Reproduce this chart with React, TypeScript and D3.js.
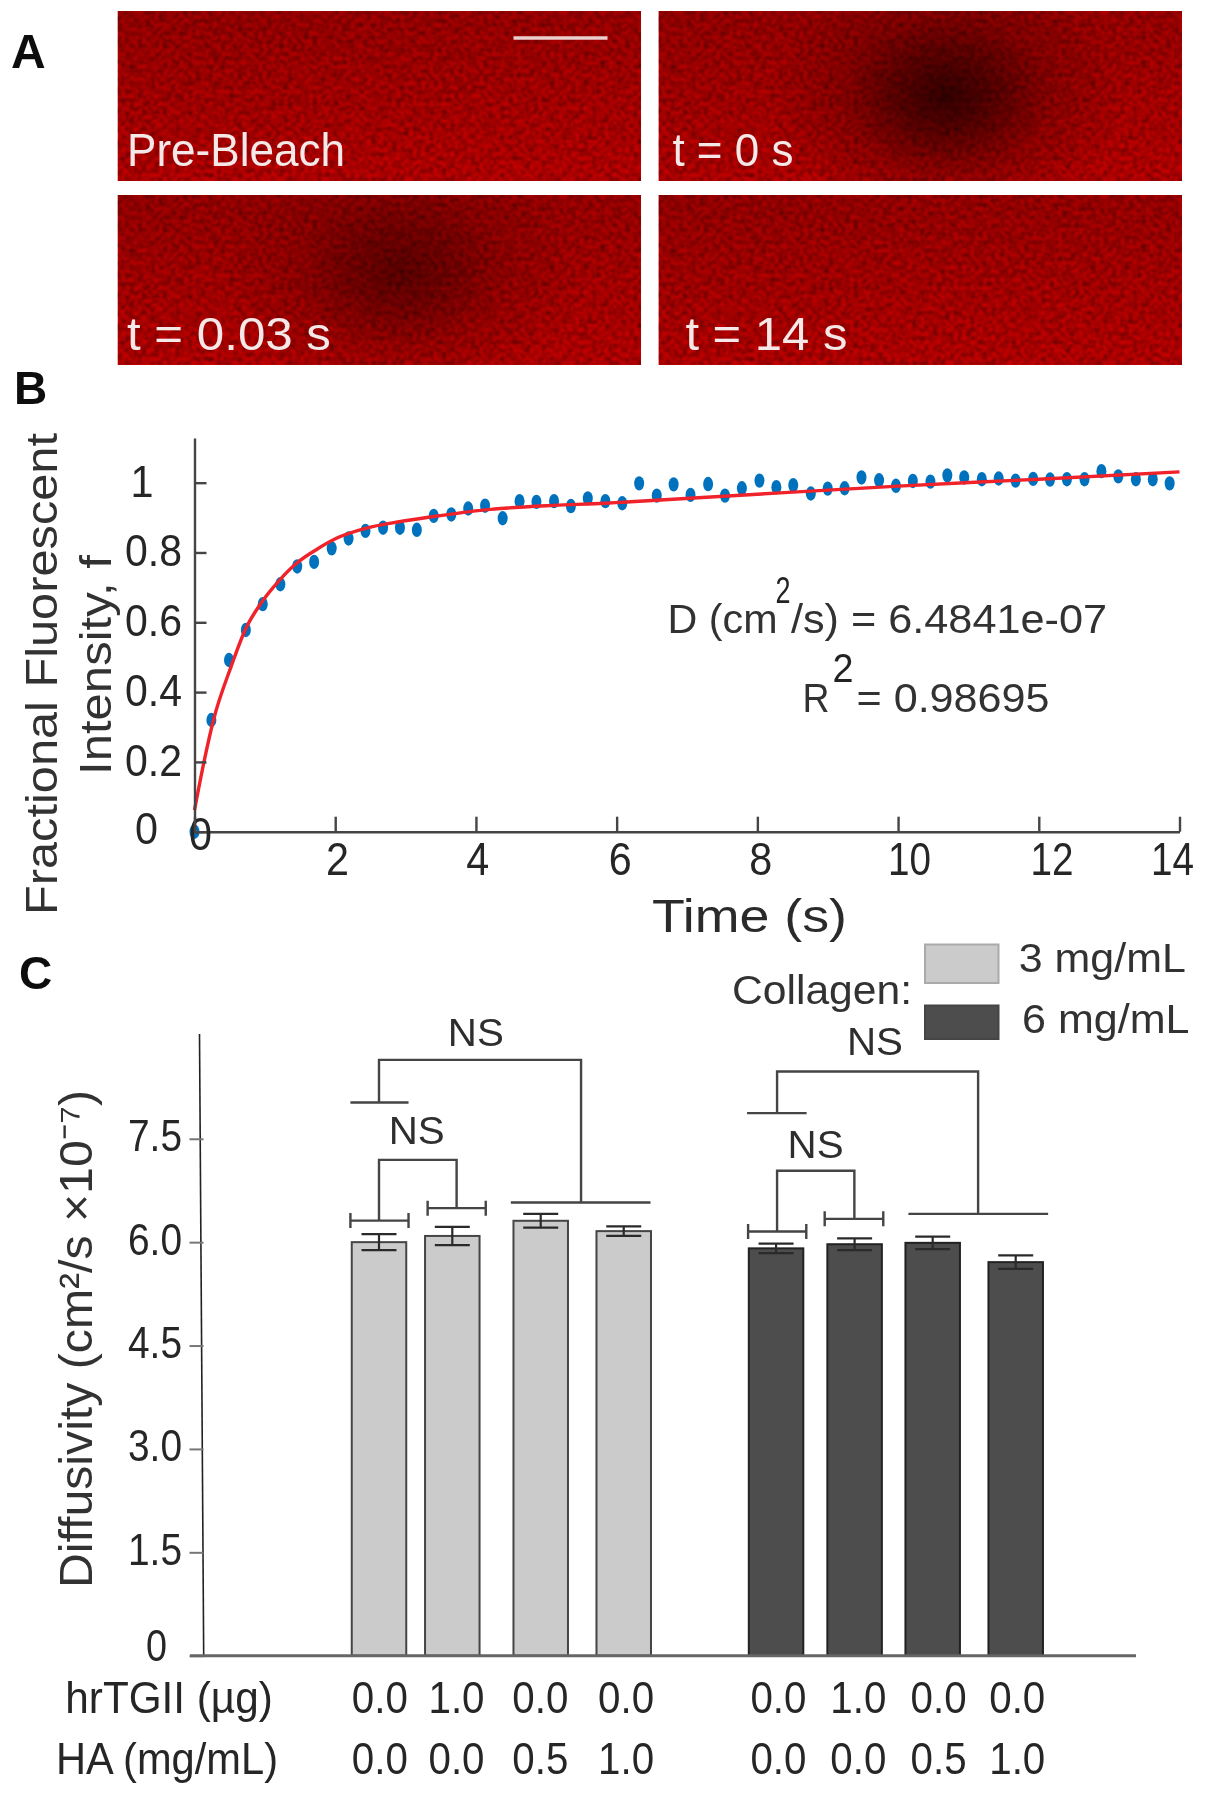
// App.tsx
import { useEffect, useRef } from 'react';
import * as d3 from 'd3';

const FONT = '"Liberation Sans", Arial, sans-serif';
const INK = '#262626';

// panel A
const frameLabels = ['Pre-Bleach', 't = 0 s', 't = 0.03 s', 't = 14 s'];

// panel B, measured recovery
const recoveryTime = [
  0, 0.24, 0.49, 0.73, 0.97, 1.22, 1.46, 1.7, 1.95, 2.19, 2.43, 2.68, 2.92, 3.16, 3.4, 3.65, 3.89, 4.13, 4.38,
  4.62, 4.86, 5.11, 5.35, 5.59, 5.84, 6.08, 6.32, 6.57, 6.81, 7.05, 7.3, 7.54, 7.78, 8.03, 8.27, 8.51, 8.76, 9.0,
  9.24, 9.48, 9.73, 9.97, 10.21, 10.46, 10.7, 10.94, 11.19, 11.43, 11.67, 11.92, 12.16, 12.4, 12.65, 12.89, 13.13,
  13.38, 13.62, 13.86,
];
const recoveryValue = [
  0, 0.32, 0.492, 0.578, 0.652, 0.709, 0.76, 0.773, 0.812, 0.84, 0.862, 0.871, 0.871, 0.865, 0.905, 0.909, 0.926,
  0.934, 0.898, 0.947, 0.945, 0.947, 0.933, 0.955, 0.947, 0.941, 0.998, 0.963, 0.995, 0.965, 0.996, 0.963, 0.984,
  1.006, 0.987, 0.993, 0.969, 0.983, 0.984, 1.015, 1.007, 0.991, 1.005, 1.003, 1.021, 1.015, 1.01, 1.012, 1.006,
  1.011, 1.009, 1.01, 1.01, 1.033, 1.018, 1.01, 1.01, 0.998,
];
const fitTime = [0, 0.14, 0.27, 0.52, 0.72, 0.96, 1.21, 1.45, 1.73, 2.01, 2.43, 2.91, 3.4, 4.13, 5.11, 5.84, 6.08, 8, 10, 12, 14];
const fitValue = [0.062, 0.205, 0.32, 0.473, 0.578, 0.659, 0.721, 0.769, 0.808, 0.84, 0.869, 0.888, 0.903, 0.922, 0.935, 0.941, 0.944, 0.967, 0.99, 1.01, 1.031];
const timeTicks = [0, 2, 4, 6, 8, 10, 12, 14];
const fractionTicks = [0, 0.2, 0.4, 0.6, 0.8, 1];

// panel C
const barSlots = [0, 0.936, 2.065, 3.125, 5.07, 6.073, 7.07, 8.13];
const labelSlots = [0.01, 0.99, 2.06, 3.155, 5.1, 6.12, 7.145, 8.15];
const diffusivity = [6.0, 6.09, 6.31, 6.16, 5.91, 5.97, 5.99, 5.71];
const diffusivityErr = [0.116, 0.133, 0.1, 0.068, 0.068, 0.085, 0.09, 0.099];
const hrTGII = ['0.0', '1.0', '0.0', '0.0', '0.0', '1.0', '0.0', '0.0'];
const hyaluronan = ['0.0', '0.0', '0.5', '1.0', '0.0', '0.0', '0.5', '1.0'];
const diffusivityTicks = [0, 1.5, 3, 4.5, 6, 7.5];
const collagenLevels = ['3 mg/mL', '6 mg/mL'];

// significance brackets, in slot / diffusivity units
const brackets = [
  { l: 0, r: 2.58, top: 8.645, lv: 8.026, rv: 6.575, lb: [-0.365, 0.377], rb: [1.683, 3.467], caps: false, ns: [1.236, 8.85] },
  { l: 0, r: 0.991, top: 7.194, lv: 6.313, rv: 6.493, lb: [-0.365, 0.377], rb: [0.621, 1.363], caps: true, ns: [0.482, 7.427] },
  { l: 5.083, r: 7.65, top: 8.476, lv: 7.872, rv: 6.41, lb: [4.7, 5.46], rb: [6.76, 8.544], caps: false, ns: [6.333, 8.718] },
  { l: 5.083, r: 6.07, top: 7.035, lv: 6.154, rv: 6.338, lb: [4.713, 5.456], rb: [5.691, 6.439], caps: true, ns: [5.575, 7.224] },
];

type Sel = d3.Selection<any, any, any, any>;

const label = (
  g: Sel,
  str: string,
  x: number,
  y: number,
  size: number,
  o: { len?: number; anchor?: string; weight?: string; fill?: string; rot?: boolean } = {}
) => {
  const t = g.append('text')
    .attr('transform', o.rot ? `translate(${x},${y}) rotate(-90)` : `translate(${x},${y})`)
    .attr('font-family', FONT)
    .attr('font-size', size)
    .attr('font-weight', o.weight || 'normal')
    .attr('text-anchor', o.anchor || 'start')
    .attr('fill', o.fill || INK)
    .text(str);
  if (o.len) t.attr('textLength', o.len).attr('lengthAdjust', 'spacingAndGlyphs');
  return t;
};

const styleTickText = (axis: Sel, size: number) => {
  axis.selectAll('text')
    .attr('font-family', FONT)
    .attr('font-size', size)
    .attr('fill', INK)
    .attr('lengthAdjust', 'spacingAndGlyphs');
};

const App = () => {
  const ref = useRef<SVGSVGElement>(null);

  useEffect(() => {
    const svg = d3.select(ref.current);
    svg.selectAll('*').remove();
    const defs = svg.append('defs');

    defs.append('filter').attr('id', 'soft')
      .attr('x', 0).attr('y', 0).attr('width', 1).attr('height', 1)
      .append('feGaussianBlur').attr('stdDeviation', 0.6);

    const grain = defs.append('filter').attr('id', 'grain')
      .attr('x', 0).attr('y', 0).attr('width', 1).attr('height', 1)
      .attr('color-interpolation-filters', 'sRGB');
    grain.append('feTurbulence')
      .attr('type', 'fractalNoise').attr('baseFrequency', 0.24).attr('numOctaves', 3).attr('seed', 7);
    grain.append('feColorMatrix')
      .attr('values', '0 0 0 0 0  0 0 0 0 0  0 0 0 0 0  1.15 0 0 0 -0.4');
    grain.append('feGaussianBlur').attr('stdDeviation', 0.9);

    const base = defs.append('linearGradient').attr('id', 'frameBase')
      .attr('x1', 0).attr('y1', 0).attr('x2', 0.15).attr('y2', 1);
    base.append('stop').attr('offset', 0).attr('stop-color', '#ac0606');
    base.append('stop').attr('offset', 1).attr('stop-color', '#cc0404');

    const bleach = defs.append('radialGradient').attr('id', 'bleach');
    bleach.append('stop').attr('offset', 0).attr('stop-color', '#1c0000').attr('stop-opacity', 0.85);
    bleach.append('stop').attr('offset', 0.3).attr('stop-color', '#1c0000').attr('stop-opacity', 0.55);
    bleach.append('stop').attr('offset', 0.6).attr('stop-color', '#1c0000').attr('stop-opacity', 0.2);
    bleach.append('stop').attr('offset', 1).attr('stop-color', '#1c0000').attr('stop-opacity', 0);

    const root = svg.append('g').attr('filter', 'url(#soft)');
    root.append('rect').attr('width', 1205).attr('height', 1800).attr('fill', '#fff');

    // ---- panel A ----
    label(root, 'A', 11, 68, 48, { weight: 'bold', fill: '#111' });
    const frameX = d3.scaleBand().domain(['0', '1']).range([117.5, 1182]).paddingInner(0.032).paddingOuter(0);
    const frameY = d3.scaleBand().domain(['0', '1']).range([11, 365]).paddingInner(0.075).paddingOuter(0);
    const spots = [
      null,
      { cx: 0.55, cy: 0.5, rx: 175, ry: 135, o: 0.95 },
      { cx: 0.54, cy: 0.46, rx: 180, ry: 135, o: 0.62 },
      null,
    ];
    const labelInset = [9.5, 14, 9.5, 27];
    frameLabels.forEach((name, i) => {
      const col = String(i % 2);
      const row = String(Math.floor(i / 2));
      const w = frameX.bandwidth();
      const h = frameY.bandwidth();
      const g = root.append('g').attr('transform', `translate(${frameX(col)},${frameY(row)})`);
      defs.append('clipPath').attr('id', `frame${i}`).append('rect').attr('width', w).attr('height', h);
      const inner = g.append('g').attr('clip-path', `url(#frame${i})`);
      inner.append('rect').attr('width', w).attr('height', h).attr('fill', 'url(#frameBase)');
      const s = spots[i];
      if (s) {
        inner.append('ellipse')
          .attr('cx', w * s.cx).attr('cy', h * s.cy)
          .attr('rx', s.rx).attr('ry', s.ry)
          .attr('fill', 'url(#bleach)').attr('opacity', s.o);
      }
      inner.append('rect').attr('width', w).attr('height', h).attr('filter', 'url(#grain)');
      label(g, name, labelInset[i], h - 15, 46, {
        fill: '#f4e8e8',
        len: [218, 121, 204, 162][i],
      });
      if (i === 0) {
        g.append('line').attr('x1', 396).attr('x2', 490).attr('y1', 27).attr('y2', 27)
          .attr('stroke', '#eccfcf').attr('stroke-width', 3.5);
      }
    });

    // ---- panel B ----
    label(root, 'B', 14, 404, 46, { weight: 'bold', fill: '#111' });
    const tx = d3.scaleLinear().domain([0, 14]).range([194.5, 1179.5]);
    const fy = d3.scaleLinear().domain([0, 1.128]).range([831.7, 438]);

    root.append('g')
      .selectAll('ellipse')
      .data(recoveryTime)
      .enter()
      .append('ellipse')
      .attr('cx', (d) => tx(d))
      .attr('cy', (_, i) => fy(recoveryValue[i]))
      .attr('rx', 5)
      .attr('ry', 7.2)
      .attr('fill', '#0072bd');

    const fitLine = d3.line<number>()
      .x((d) => tx(d))
      .y((_, i) => fy(fitValue[i]))
      .curve(d3.curveMonotoneX);
    root.append('path')
      .attr('d', fitLine(fitTime))
      .attr('fill', 'none')
      .attr('stroke', '#f0202a')
      .attr('stroke-width', 3.4);

    const xShift: Record<number, number> = { 0: 5.5, 2: 1.7, 4: 1.3, 6: 3, 8: 3, 10: 10.8, 12: 12.6, 14: -7.5 };
    const xAxisB = root.append('g')
      .attr('transform', 'translate(0,831.7)')
      .call(d3.axisBottom(tx).tickValues(timeTicks).tickSizeInner(-15).tickSizeOuter(0).tickFormat(d3.format('d') as any));
    styleTickText(xAxisB, 46);
    xAxisB.selectAll<SVGTextElement, number>('text')
      .attr('dy', 0)
      .attr('x', (d) => xShift[d])
      .attr('y', (d) => (d === 0 ? 18.3 : 43.3))
      .attr('textLength', (d) => (d >= 10 ? 43 : 23));

    const yAxisB = root.append('g')
      .attr('transform', 'translate(194.5,0)')
      .call(d3.axisLeft(fy).tickValues(fractionTicks).tickSizeInner(-12).tickSizeOuter(0).tickFormat((d) => String(d)));
    styleTickText(yAxisB, 45);
    yAxisB.selectAll<SVGTextElement, number>('text')
      .attr('dy', 0)
      .attr('y', (d) => (d === 0 ? 11.5 : 13.5))
      .attr('x', (d) => (d === 0 ? -36.5 : d === 1 ? -41 : -12.5))
      .attr('textLength', (d) => (d === 0 || d === 1 ? 23 : 57));
    [xAxisB, yAxisB].forEach((a) => {
      a.selectAll('.domain, line').attr('stroke', '#444').attr('stroke-width', 2.4);
    });

    label(root, 'Fractional Fluorescent', 57, 915, 45, { rot: true, len: 482, fill: '#333' });
    label(root, 'Intensity, f', 110.7, 775, 45, { rot: true, len: 220, fill: '#333' });
    label(root, 'Time (s)', 652, 932, 47, { len: 195, fill: '#2c2c2c' });

    label(root, 'D (cm', 667.5, 633, 40, { len: 110, fill: '#333' });
    label(root, '2', 775.5, 603, 36, { len: 15, fill: '#222' });
    label(root, '/s) = 6.4841e-07', 791, 633, 40, { len: 316, fill: '#333' });
    label(root, 'R', 802.5, 712, 40, { len: 27, fill: '#333' });
    label(root, '2', 832.5, 682, 40, { len: 21, fill: '#222' });
    label(root, '= 0.98695', 856.5, 712, 40, { len: 193, fill: '#333' });

    // ---- panel C ----
    label(root, 'C', 19, 989, 46, { weight: 'bold', fill: '#111' });
    const sx = d3.scaleLinear().domain([0, 8.13]).range([379, 1015.7]);
    const dy = d3.scaleLinear().domain([0, 9.02]).range([1655.7, 1034]);
    const barW = 54.5;

    const yAxisC = root.append('g')
      .attr('transform', 'translate(199.5,0)')
      .call(d3.axisLeft(dy).tickValues(diffusivityTicks).tickSizeOuter(0).tickFormat((d) => (Number(d) === 0 ? '0' : d3.format('.1f')(d))));
    // the scanned axis leans a few pixels to the right at the bottom
    yAxisC.select('.domain')
      .attr('d', `M0,${dy.range()[1]}L4.2,${dy.range()[0]}`)
      .attr('fill', 'none')
      .attr('stroke', '#222')
      .attr('stroke-width', 1.6);
    yAxisC.selectAll('line').attr('x1', 4).attr('x2', -10).attr('stroke', '#777').attr('stroke-width', 2);
    styleTickText(yAxisC, 45);
    yAxisC.selectAll<SVGTextElement, number>('text')
      .attr('dy', 0)
      .attr('y', (d) => (d === 0 ? 4.5 : 12))
      .attr('x', (d) => (d === 0 ? -32.5 : -17.5))
      .attr('textLength', (d) => (d === 0 ? 21 : 54));

    root.append('g')
      .selectAll('rect')
      .data(barSlots)
      .enter()
      .append('rect')
      .attr('x', (d) => sx(d) - barW / 2)
      .attr('y', (_, i) => dy(diffusivity[i]))
      .attr('width', barW)
      .attr('height', (_, i) => dy(0) - dy(diffusivity[i]))
      .attr('fill', (_, i) => (i < 4 ? '#cbcbcb' : '#4d4d4d'))
      .attr('stroke', (_, i) => (i < 4 ? '#444' : '#222'))
      .attr('stroke-width', 2);

    root.append('line')
      .attr('x1', 190).attr('x2', 1136).attr('y1', dy(0)).attr('y2', dy(0))
      .attr('stroke', '#666').attr('stroke-width', 3);

    const errs = root.append('g').attr('stroke', '#2a2a2a').attr('stroke-width', 2.2).attr('fill', 'none');
    barSlots.forEach((slot, i) => {
      const hi = dy(diffusivity[i] + diffusivityErr[i]);
      const lo = dy(diffusivity[i] - diffusivityErr[i]);
      const p = d3.path();
      p.moveTo(sx(slot), hi); p.lineTo(sx(slot), lo);
      p.moveTo(sx(slot) - 17.5, hi); p.lineTo(sx(slot) + 17.5, hi);
      p.moveTo(sx(slot) - 17.5, lo); p.lineTo(sx(slot) + 17.5, lo);
      errs.append('path').attr('d', p.toString());
    });

    const br = root.append('g').attr('stroke', '#444').attr('stroke-width', 2.4).attr('fill', 'none');
    brackets.forEach((b) => {
      const p = d3.path();
      p.moveTo(sx(b.l), dy(b.lv));
      p.lineTo(sx(b.l), dy(b.top));
      p.lineTo(sx(b.r), dy(b.top));
      p.lineTo(sx(b.r), dy(b.rv));
      [[b.lb, b.lv], [b.rb, b.rv]].forEach(([bar, v]: any) => {
        p.moveTo(sx(bar[0]), dy(v));
        p.lineTo(sx(bar[1]), dy(v));
        if (b.caps) {
          p.moveTo(sx(bar[0]), dy(v) - 7.5); p.lineTo(sx(bar[0]), dy(v) + 7.5);
          p.moveTo(sx(bar[1]), dy(v) - 7.5); p.lineTo(sx(bar[1]), dy(v) + 7.5);
        }
      });
      br.append('path').attr('d', p.toString());
      label(root, 'NS', sx(b.ns[0]), dy(b.ns[1]), 38, { anchor: 'middle', len: 56, fill: '#2e2e2e' });
    });

    label(root, 'Diffusivity (cm²/s ×10⁻⁷)', 92, 1588, 46, { rot: true, len: 498, fill: '#333' });

    // legend
    label(root, 'Collagen:', 732, 1004, 40, { len: 180, fill: '#333' });
    root.append('rect').attr('x', 925).attr('y', 944.5).attr('width', 73.5).attr('height', 38.5)
      .attr('fill', '#cbcbcb').attr('stroke', '#aaa').attr('stroke-width', 2);
    root.append('rect').attr('x', 925).attr('y', 1005.5).attr('width', 73.5).attr('height', 33.5)
      .attr('fill', '#4d4d4d').attr('stroke', '#444').attr('stroke-width', 2);
    label(root, collagenLevels[0], 1018.8, 971.7, 40, { len: 167, fill: '#333' });
    label(root, collagenLevels[1], 1022, 1033, 40, { len: 167.5, fill: '#333' });

    // condition table under the bars
    label(root, 'hrTGII (µg)', 65.3, 1713, 45, { len: 207.5 });
    label(root, 'HA (mg/mL)', 56, 1774, 45, { len: 222 });
    labelSlots.forEach((slot, i) => {
      label(root, hrTGII[i], sx(slot), 1713, 45, { anchor: 'middle', len: 56 });
      label(root, hyaluronan[i], sx(slot), 1774, 45, { anchor: 'middle', len: 56 });
    });
  }, []);

  return (
    <svg
      ref={ref}
      width={1205}
      height={1800}
      style={{ position: 'absolute', left: 0, top: 0, display: 'block' }}
    />
  );
};

export default App;
